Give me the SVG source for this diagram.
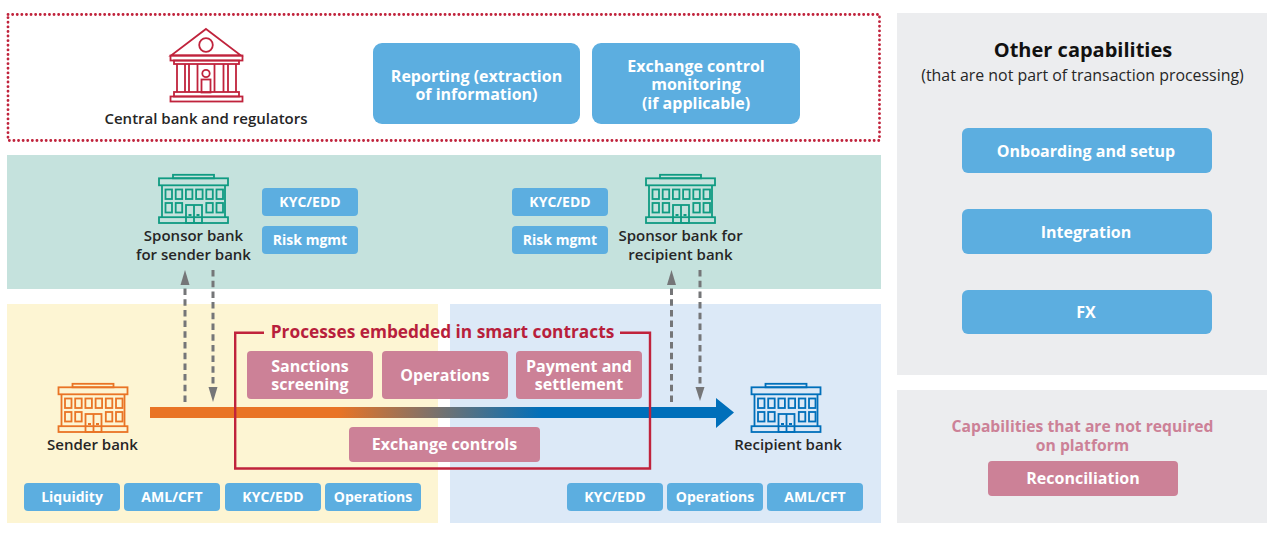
<svg xmlns="http://www.w3.org/2000/svg" width="1275" height="538" viewBox="0 0 1275 538">
<style>
text{font-family:"Open Sans","Noto Sans","Liberation Sans",sans-serif;text-anchor:middle}
.w{fill:#fff;font-weight:700}
.k{fill:#262626;font-weight:600;font-size:15px}
.s{font-size:14px}.m{font-size:16px}
.b{fill:#5caee0}.p{fill:#cc8197}
.d{fill:none;stroke:#757678;stroke-width:3;stroke-dasharray:6.500 4.200}
.h{fill:#757678}
.ic{fill:none;stroke:currentColor;stroke-width:1.800}
</style>
<defs>
<linearGradient id="g" gradientUnits="userSpaceOnUse" x1="338" y1="0" x2="542" y2="0"><stop offset="0" stop-color="#e97425"/><stop offset="1" stop-color="#006fba"/></linearGradient>
<symbol id="bank" viewBox="0 0 72 50" width="72" height="50" overflow="visible">
<g class="ic">
<rect x="15.500" y="0.800" width="41" height="3.500"/>
<rect x="1.500" y="4.300" width="69" height="7"/>
<path d="M4.500 11.300V43M67.500 11.300V43"/>
<rect x="1.500" y="43.200" width="69" height="5.800"/>
<rect x="8" y="15.500" width="6.500" height="9.500"/><rect x="18.200" y="15.500" width="6.500" height="9.500"/><rect x="28.400" y="15.500" width="6.500" height="9.500"/><rect x="38.600" y="15.500" width="6.500" height="9.500"/><rect x="48.800" y="15.500" width="6.500" height="9.500"/><rect x="59" y="15.500" width="6.500" height="9.500"/>
<rect x="8" y="29" width="6.500" height="9.500"/><rect x="18.200" y="29" width="6.500" height="9.500"/><rect x="48.800" y="29" width="6.500" height="9.500"/><rect x="59" y="29" width="6.500" height="9.500"/>
<rect x="28.500" y="31" width="16" height="18"/>
<path d="M36.500 31V49M31 41h3M39 41h3"/>
</g>
</symbol>
</defs>
<rect width="1275" height="538" fill="#fff"/>
<g id="backgrounds">
<rect x="7" y="155" width="874" height="134" fill="#c5e2dd"/>
<rect x="7" y="304" width="431" height="219" fill="#fdf5d3"/>
<rect x="450" y="304" width="431" height="219" fill="#dce9f7"/>
<rect x="897" y="13" width="370" height="362" fill="#ecedef"/>
<rect x="897" y="390" width="370" height="133" fill="#ecedef"/>
<rect x="8" y="14.500" width="871.500" height="126" fill="#fff" stroke="#c0233c" stroke-width="2.800" stroke-linecap="round" stroke-dasharray="0.100 4.500"/>
</g>
<g id="connectors">
<path d="M150 407H716V398L734 412.500L716 428V418H150Z" fill="url(#g)"/>
<path class="d" d="M185 402V282"/><path class="h" d="M185 270L189.500 285H180.500Z"/>
<path class="d" d="M213 270V388"/><path class="h" d="M213 402L208.500 387H217.500Z"/>
<path class="d" d="M671.500 402V282"/><path class="h" d="M671.500 270L676 285H667Z"/>
<path class="d" d="M700 270V388"/><path class="h" d="M700 401L695.500 387H704.500Z"/>
</g>
<g id="smart-contracts">
<path d="M264 332.700H235.200V468.500H650V332.700H620" fill="none" stroke="#c0233c" stroke-width="2.400"/>
<text x="442.500" y="338" fill="#b81f3c" font-weight="700" font-size="17.300">Processes embedded in smart contracts</text>
</g>
<g id="central-bank">
<g fill="none" stroke="#c0233c" stroke-width="1.800">
<path d="M206 29L241 55.500H171Z"/>
<circle cx="206" cy="45" r="6.800"/>
<rect x="170.500" y="55.500" width="72" height="5"/>
<rect x="174" y="60.500" width="65" height="3.500"/>
<path d="M177 64V92M185 64V92M189 64V92M197.500 64V92M214.500 64V92M223.500 64V92M228 64V92M236 64V92"/>
<circle cx="206" cy="73.500" r="3.700"/>
<rect x="201.500" y="79.500" width="9" height="13"/>
<rect x="174" y="92" width="65" height="4.500"/>
<rect x="170.500" y="96.500" width="72" height="5"/>
</g>
<text class="k" x="206" y="124">Central bank and regulators</text>
</g>
<g id="reporting"><rect class="b" x="373" y="43" width="207" height="81" rx="9"/><text class="w m" y="82"><tspan x="476.500">Reporting (extraction</tspan><tspan x="476.500" dy="18">of information)</tspan></text></g>
<g id="exchange-control"><rect class="b" x="592" y="43" width="208" height="81" rx="9"/><text class="w m" y="72"><tspan x="696">Exchange control</tspan><tspan x="696" dy="18">monitoring</tspan><tspan x="696" dy="19">(if applicable)</tspan></text></g>
<g id="sponsor-sender"><use href="#bank" x="157.500" y="174" color="#0f9b82"/><text class="k" y="241"><tspan x="193.500">Sponsor bank</tspan><tspan x="193.500" dy="19">for sender bank</tspan></text></g>
<g id="sponsor-sender-kyc"><rect class="b" x="262" y="188" width="96" height="28" rx="4"/><text class="w s" x="310" y="207">KYC/EDD</text></g>
<g id="sponsor-sender-risk"><rect class="b" x="262" y="226" width="96" height="28" rx="4"/><text class="w s" x="310" y="245">Risk mgmt</text></g>
<g id="sponsor-recipient"><use href="#bank" x="644.500" y="174" color="#0f9b82"/><text class="k" y="241"><tspan x="680.500">Sponsor bank for</tspan><tspan x="680.500" dy="19">recipient bank</tspan></text></g>
<g id="sponsor-recipient-kyc"><rect class="b" x="512" y="188" width="96" height="28" rx="4"/><text class="w s" x="560" y="207">KYC/EDD</text></g>
<g id="sponsor-recipient-risk"><rect class="b" x="512" y="226" width="96" height="28" rx="4"/><text class="w s" x="560" y="245">Risk mgmt</text></g>
<g id="sender-bank"><use href="#bank" x="57" y="383" color="#e97425"/><text class="k" x="92.500" y="450">Sender bank</text></g>
<g id="recipient-bank"><use href="#bank" x="750" y="383" color="#006fba"/><text class="k" x="788" y="450">Recipient bank</text></g>
<g id="sanctions"><rect class="p" x="247" y="351" width="126" height="48" rx="4"/><text class="w m" y="372"><tspan x="310">Sanctions</tspan><tspan x="310" dy="18">screening</tspan></text></g>
<g id="operations-sc"><rect class="p" x="382" y="351" width="126" height="48" rx="4"/><text class="w m" x="445" y="381">Operations</text></g>
<g id="payment"><rect class="p" x="516" y="351" width="126" height="48" rx="4"/><text class="w m" y="372"><tspan x="579">Payment and</tspan><tspan x="579" dy="18">settlement</tspan></text></g>
<g id="exchange-controls"><rect class="p" x="349" y="427" width="191" height="35" rx="4"/><text class="w m" x="444.500" y="450">Exchange controls</text></g>
<g id="liquidity"><rect class="b" x="24" y="483" width="96" height="28" rx="4"/><text class="w s" x="72" y="502">Liquidity</text></g>
<g id="aml-sender"><rect class="b" x="124" y="483" width="96" height="28" rx="4"/><text class="w s" x="172" y="502">AML/CFT</text></g>
<g id="kyc-sender"><rect class="b" x="225" y="483" width="96" height="28" rx="4"/><text class="w s" x="273" y="502">KYC/EDD</text></g>
<g id="ops-sender"><rect class="b" x="325" y="483" width="96" height="28" rx="4"/><text class="w s" x="373" y="502">Operations</text></g>
<g id="kyc-recipient"><rect class="b" x="567" y="483" width="96" height="28" rx="4"/><text class="w s" x="615" y="502">KYC/EDD</text></g>
<g id="ops-recipient"><rect class="b" x="667" y="483" width="96" height="28" rx="4"/><text class="w s" x="715" y="502">Operations</text></g>
<g id="aml-recipient"><rect class="b" x="767" y="483" width="96" height="28" rx="4"/><text class="w s" x="815" y="502">AML/CFT</text></g>
<g id="other-capabilities"><text x="1083" y="57" fill="#111" font-weight="700" font-size="20">Other capabilities</text><text x="1082.500" y="81" fill="#262626" font-size="15.900">(that are not part of transaction processing)</text></g>
<g id="onboarding"><rect class="b" x="962" y="128" width="250" height="45" rx="6"/><text class="w m" x="1086" y="157">Onboarding and setup</text></g>
<g id="integration"><rect class="b" x="962" y="209" width="250" height="45" rx="6"/><text class="w m" x="1086" y="238">Integration</text></g>
<g id="fx"><rect class="b" x="962" y="290" width="250" height="44" rx="6"/><text class="w m" x="1086" y="318">FX</text></g>
<g id="not-required"><text class="p" font-size="15.700" y="432" font-weight="700"><tspan x="1082.500">Capabilities that are not required</tspan><tspan x="1082.500" dy="19">on platform</tspan></text></g>
<g id="reconciliation"><rect class="p" x="988" y="461" width="190" height="35" rx="4"/><text class="w m" x="1083" y="484">Reconciliation</text></g>
</svg>
